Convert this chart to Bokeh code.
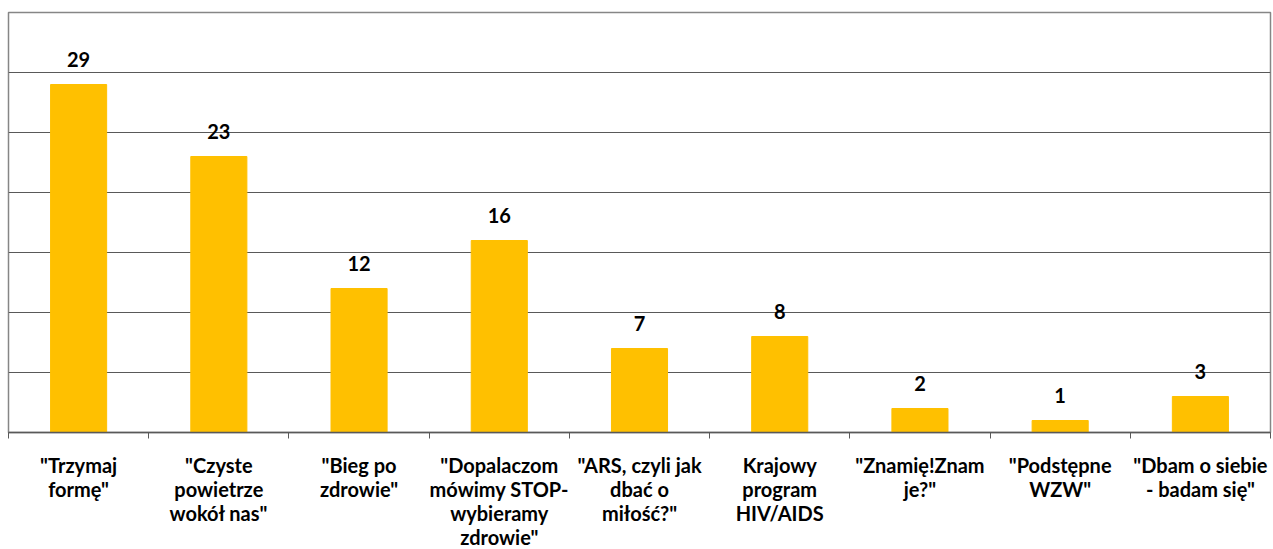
from bokeh.plotting import figure
from bokeh.models import ColumnDataSource, FixedTicker, Range1d
from bokeh.embed import file_html
from bokeh.resources import INLINE
from bokeh.core.properties import value

categories = [
    '"Trzymaj\nformę"',
    '"Czyste\npowietrze\nwokół nas"',
    '"Bieg po\nzdrowie"',
    '"Dopalaczom\nmówimy STOP-\nwybieramy\nzdrowie"',
    '"ARS, czyli jak\ndbać o\nmiłość?"',
    'Krajowy\nprogram\nHIV/AIDS',
    '"Znamię!Znam\nje?"',
    '"Podstępne\nWZW"',
    '"Dbam o siebie\n- badam się"',
]
values = [29, 23, 12, 16, 7, 8, 2, 1, 3]

n = len(categories)
xs = [i + 0.5 for i in range(n)]
src = ColumnDataSource(dict(x=xs, top=values, lbl=[str(v) for v in values]))

FONT = "Lato"
p = figure(width=1273, frame_width=1262, frame_height=420,
           x_range=Range1d(0, n), y_range=Range1d(0, 35),
           output_backend="svg", toolbar_location=None,
           min_border_left=8, min_border_right=3, min_border_top=12, min_border_bottom=0)
p.outline_line_color = "#868686"
p.outline_line_width = 1.5

p.vbar(x="x", top="top", width=0.4, bottom=0, source=src, color="#FFC000")
p.text(x="x", y="top", text="lbl", source=src, text_align="center", text_baseline="bottom",
       y_offset=-18, text_font=value(FONT), text_font_style="bold", text_font_size="20px",
       text_color="#000000")

p.yaxis.visible = False
p.ygrid.ticker = FixedTicker(ticks=[5, 10, 15, 20, 25, 30, 35])
p.ygrid.grid_line_color = "#595959"
p.ygrid.grid_line_width = 1
p.xgrid.visible = False

ax = p.xaxis[0]
ax.ticker = FixedTicker(ticks=xs, minor_ticks=list(range(n + 1)))
ax.major_label_overrides = {x: c for x, c in zip(xs, categories)}
ax.major_tick_out = 0
ax.major_tick_in = 0
ax.minor_tick_out = 6
ax.minor_tick_in = 0
ax.minor_tick_line_color = "#595959"
ax.axis_line_color = "#595959"
ax.axis_line_width = 1.5
ax.major_label_standoff = 14
ax.major_label_text_font = FONT
ax.major_label_text_font_style = "bold"
ax.major_label_text_font_size = "20px"
ax.major_label_text_color = "#000000"
ax.major_label_text_line_height = 1.0

open("out.html", "w").write(file_html(p, INLINE))
